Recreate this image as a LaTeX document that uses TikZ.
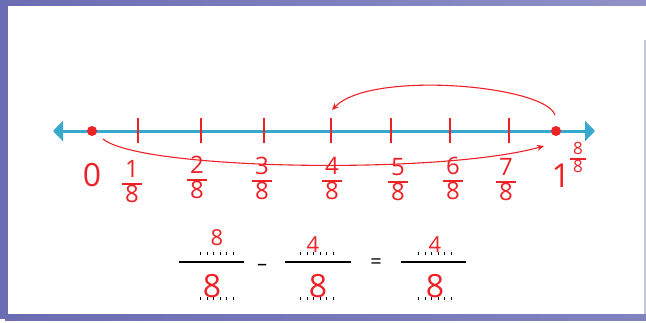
\documentclass[tikz,border=0pt]{standalone}
\usepackage{fontspec}
\usepackage{xcolor}
\usepackage{tikz}
\usetikzlibrary{arrows.meta, positioning}
\newfontfamily\hand{Open Sans}
\definecolor{frame}{HTML}{6B6DB4}
\definecolor{axis}{HTML}{36A9CC}
\definecolor{pen}{HTML}{EC2227}
\newcommand{\hfrac}[2]{{\setlength{\arrayrulewidth}{1.6pt}\setlength{\tabcolsep}{3pt}%
  \renewcommand{\arraystretch}{0.7}\begin{tabular}{c}#1\\\hline #2\end{tabular}}}
\tikzset{
  numline/.style={axis, line width=3pt,
                  {Triangle[length=10pt,width=20pt]}-{Triangle[length=10pt,width=20pt]}},
  tickmark/.style={pen, line width=2.2pt},
  dot/.style={circle, fill=pen, inner sep=0pt, minimum size=10pt},
  hw/.style={text=pen, inner sep=0pt, font=\hand\fontsize{24}{27}\selectfont},
  op/.style={inner sep=0pt, font=\hand\fontsize{20}{22}\selectfont},
  hop/.style={->, >={Stealth[length=7pt,width=6pt]}, pen, line width=1.1pt},
  blank/.style={line width=3pt, dash pattern=on 1pt off 5.6pt},
  bar/.style={line width=1.6pt},
}
\begin{document}
\begin{tikzpicture}[x=1pt, y=-1pt]
  \useasboundingbox (0,0) rectangle (646,322);
  % frame
  \fill[frame] (0,0) rectangle (8,319);
  \shade[left color=frame, right color=frame!75] (0,0) rectangle (646,5);
  \shade[left color=frame, right color=frame!85] (5,314) rectangle (646,320);
  \draw[frame!40, line width=1.5pt] (645,40) -- (645,314);

  % number line
  \coordinate (west) at (53,131);
  \coordinate (east) at (595,131);
  \draw[numline] (west) -- (east);
  \foreach \x [count=\i] in {138,201,264,331,391,450,509}
    \draw[tickmark] (\x,118) coordinate (t\i) -- (\x,143);
  \node[dot] (zero) at (92,131) {};
  \node[dot] (one) at (556,131) {};

  % labels
  \node[hw, font=\hand\fontsize{32}{34}\selectfont] (lzero) at (92,175) {0};
  \foreach \x/\y [count=\i] in {132/184,197/180,262/181,332/181,398/182,453/181,506/182}
    \node[hw] (f\i) at (\x,\y) {\hfrac{\i}{8}};
  \node[hw, font=\hand\fontsize{33}{35}\selectfont] (lone) at (561,176) {1};
  \node[hw, font=\hand\fontsize{17}{19}\selectfont] (fone) at (578,159) {\hfrac{8}{8}};

  % jumps
  \draw[hop] ([shift={(11,8)}]zero.center) .. controls +(37,31) and +(-104,29)
    .. ([shift={(-12,15)}]one.center);
  \draw[hop] ([shift={(-1,-16)}]one.center) .. controls +(-10,-30) and +(38,-40)
    .. ([shift={(1,-8)}]t4);

  % equation
  \draw[bar] (179,262) -- (244,262);
  \draw[bar] (285,262) -- (351,262);
  \draw[bar] (401,262) -- (466,262);
  \foreach \a in {200,300,418} {
    \draw[blank] (\a,253) -- ++(34,0);
    \draw[blank] (\a,298) -- ++(34,0);
  }
  \node[hw, font=\hand\fontsize{22}{24}\selectfont] (an) at (217,238) {8};
  \node[hw, font=\hand\fontsize{32}{34}\selectfont] (ad) at (212,286) {8};
  \node[hw, font=\hand\fontsize{22}{24}\selectfont] (bn) at (313,245) {4};
  \node[hw, font=\hand\fontsize{32}{34}\selectfont] (bd) at (318,286) {8};
  \node[hw, font=\hand\fontsize{22}{24}\selectfont] (cn) at (435,245) {4};
  \node[hw, font=\hand\fontsize{32}{34}\selectfont] (cd) at (435,286) {8};
  \node[op] (minus) at (262,267) {–};
  \node[op] (equals) at (376,264) {=};
\end{tikzpicture}
\end{document}
